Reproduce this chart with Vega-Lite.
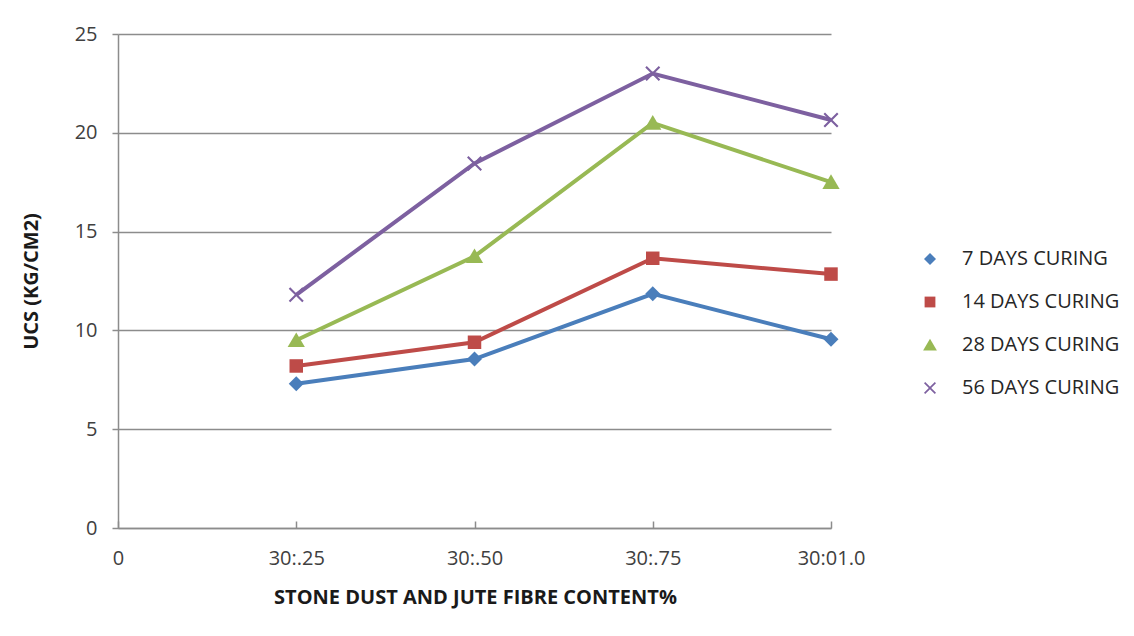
{
  "$schema": "https://vega.github.io/schema/vega-lite/v6.json",
  "autosize": {"type": "none"},
  "padding": {"left": 118, "top": 34, "right": 303, "bottom": 108},
  "width": 713,
  "height": 494,
  "background": "white",
  "config": {
    "view": {"stroke": null},
    "font": "Open Sans"
  },
  "data": {
    "values": [
      {"series": "7 DAYS CURING", "mix": "30:.25", "ucs": 7.3},
      {"series": "7 DAYS CURING", "mix": "30:.50", "ucs": 8.55},
      {"series": "7 DAYS CURING", "mix": "30:.75", "ucs": 11.85},
      {"series": "7 DAYS CURING", "mix": "30:01.0", "ucs": 9.55},
      {"series": "14 DAYS CURING", "mix": "30:.25", "ucs": 8.2},
      {"series": "14 DAYS CURING", "mix": "30:.50", "ucs": 9.4},
      {"series": "14 DAYS CURING", "mix": "30:.75", "ucs": 13.65},
      {"series": "14 DAYS CURING", "mix": "30:01.0", "ucs": 12.85},
      {"series": "28 DAYS CURING", "mix": "30:.25", "ucs": 9.5},
      {"series": "28 DAYS CURING", "mix": "30:.50", "ucs": 13.75},
      {"series": "28 DAYS CURING", "mix": "30:.75", "ucs": 20.5},
      {"series": "28 DAYS CURING", "mix": "30:01.0", "ucs": 17.5},
      {"series": "56 DAYS CURING", "mix": "30:.25", "ucs": 11.8},
      {"series": "56 DAYS CURING", "mix": "30:.50", "ucs": 18.45},
      {"series": "56 DAYS CURING", "mix": "30:.75", "ucs": 23.0},
      {"series": "56 DAYS CURING", "mix": "30:01.0", "ucs": 20.65}
    ]
  },
  "encoding": {
    "x": {
      "field": "mix",
      "type": "ordinal",
      "scale": {"type": "point", "domain": ["0", "30:.25", "30:.50", "30:.75", "30:01.0"], "padding": 0},
      "axis": {
        "title": "STONE DUST AND JUTE FIBRE CONTENT%",
        "labelAngle": 0,
        "grid": false,
        "domainColor": "#8c8c8c",
        "domainWidth": 1.5,
        "tickColor": "#8c8c8c",
        "tickWidth": 1.5,
        "tickSize": -7,
        "labelPadding": 27,
        "labelFontSize": 20,
        "labelColor": "#404040",
        "titleFontSize": 20,
        "titleFontWeight": "bold",
        "titleColor": "#1a1a1a",
        "titleX": 357,
        "titleY": 69,
        "titleAlign": "center",
        "titleBaseline": "middle"
      }
    },
    "y": {
      "field": "ucs",
      "type": "quantitative",
      "scale": {"domain": [0, 25], "nice": false},
      "axis": {
        "title": "UCS (KG/CM2)",
        "values": [0, 5, 10, 15, 20, 25],
        "grid": true,
        "gridColor": "#8c8c8c",
        "gridWidth": 1.5,
        "domainColor": "#8c8c8c",
        "domainWidth": 1.5,
        "tickColor": "#8c8c8c",
        "tickWidth": 1.5,
        "tickSize": 6,
        "labelPadding": 15,
        "labelFontSize": 20,
        "labelColor": "#404040",
        "titleFontSize": 20,
        "titleFontWeight": "bold",
        "titleColor": "#1a1a1a",
        "titleAngle": -90,
        "titleX": -87,
        "titleY": 247,
        "titleAlign": "center",
        "titleBaseline": "middle"
      }
    },
    "color": {
      "field": "series",
      "type": "nominal",
      "scale": {
        "domain": ["7 DAYS CURING", "14 DAYS CURING", "28 DAYS CURING", "56 DAYS CURING"],
        "range": ["#4a7ebb", "#be4b48", "#98b954", "#7d60a0"]
      },
      "legend": {
        "title": null,
        "orient": "none",
        "legendX": 802,
        "legendY": 215,
        "padding": 0,
        "labelFontSize": 20,
        "labelColor": "#262626",
        "symbolSize": 144,
        "symbolStrokeWidth": 0,
        "symbolOpacity": 1,
        "rowPadding": 23,
        "labelOffset": 22
      }
    }
  },
  "layer": [
    {
      "mark": {"type": "line", "strokeWidth": 4}
    },
    {
      "mark": {"type": "point", "filled": true, "opacity": 1, "size": 225, "strokeWidth": 0},
      "encoding": {
        "shape": {
          "field": "series",
          "type": "nominal",
          "scale": {
            "domain": ["7 DAYS CURING", "14 DAYS CURING", "28 DAYS CURING", "56 DAYS CURING"],
            "range": [
              "M-1,0L0,-1L1,0L0,1Z",
              "M-0.9,-0.9H0.9V0.9H-0.9Z",
              "M0,-1.05L1.15,0.9H-1.15Z",
              "M-1,-0.8L-0.8,-1L0,-0.2L0.8,-1L1,-0.8L0.2,0L1,0.8L0.8,1L0,0.2L-0.8,1L-1,0.8L-0.2,0Z"
            ]
          },
          "legend": null
        }
      }
    }
  ]
}
